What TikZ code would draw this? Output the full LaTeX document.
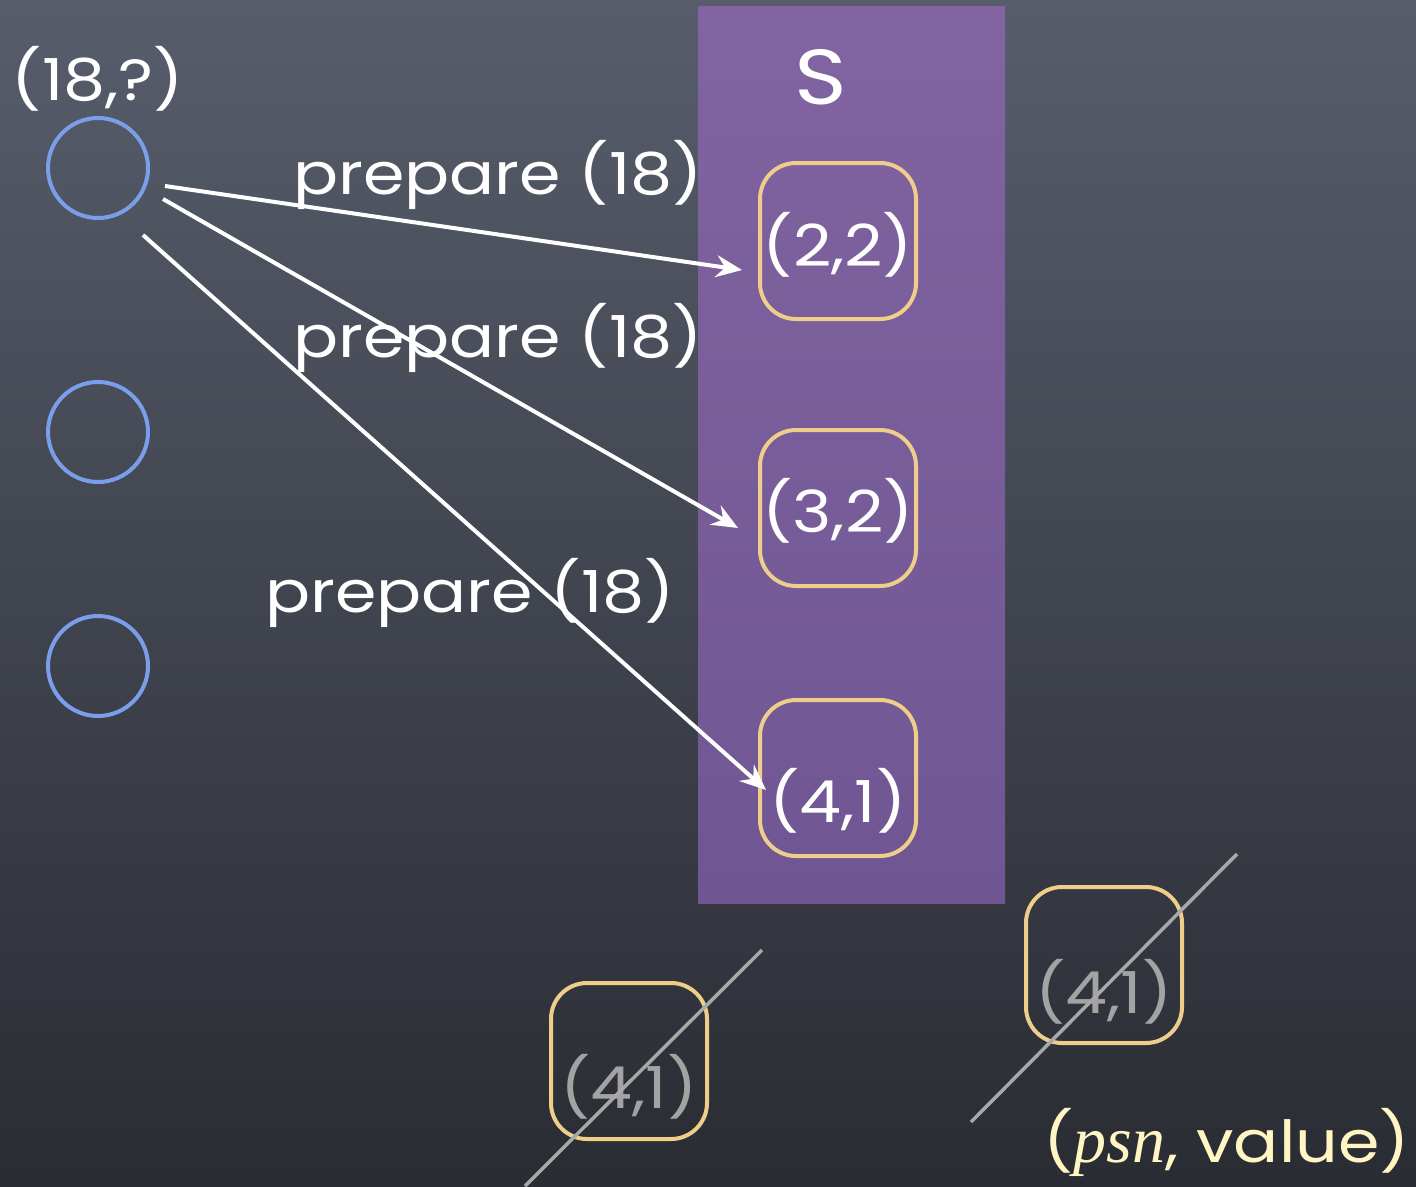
\documentclass[tikz,border=0pt]{standalone}
\usepackage{fontspec}
\setmainfont{Poppins}[FakeStretch=1.15]
\newfontfamily\psnfont{Liberation Serif}
\usetikzlibrary{arrows.meta}
\definecolor{bgtop}{HTML}{575D6B}
\definecolor{bgbot}{HTML}{2A2C33}
\definecolor{purtop}{HTML}{8164A1}
\definecolor{purbot}{HTML}{6F5692}
\definecolor{boxcol}{HTML}{EFCE8C}
\definecolor{circcol}{HTML}{7B9EEA}
\definecolor{graytxt}{HTML}{A3A3A3}
\definecolor{strike}{HTML}{A8A8A8}
\definecolor{ylw}{HTML}{FFF6C4}
\tikzset{
  circ/.style={circle, draw=circcol, line width=4pt, minimum size=100pt, inner sep=0pt},
  sbox/.style={rectangle, rounded corners=36pt, draw=boxcol, line width=4pt, minimum width=156pt, minimum height=156pt, inner sep=0pt},
  txt/.style={text=white, font=\fontsize{58}{64}\selectfont, inner sep=0pt},
  gtxt/.style={text=graytxt, font=\fontsize{58}{64}\selectfont, inner sep=0pt},
  arr/.style={draw=white, line width=4pt, -{Stealth[length=26pt,width=22pt,inset=9pt]}},
  strk/.style={draw=strike, line width=3.5pt},
}
\begin{document}
\begin{tikzpicture}[x=1pt,y=-1pt]
\useasboundingbox (0,0) rectangle (1416,1186);
\shade[top color=bgtop, bottom color=bgbot] (0,0) rectangle (1416,1186);
\shade[top color=purtop, bottom color=purbot] (698,6) rectangle (1005,903);
% left circles
\node[circ] (c1) at (98,168) {};
\node[circ] (c2) at (98,432) {};
\node[circ] (c3) at (98,666) {};
\node[txt, anchor=base] (t18) at (98,100) {(18,?)};
\node[txt, anchor=base, font=\fontsize{78}{84}\selectfont] (S) at (821,104) {S};
% boxes in S
\node[sbox] (b22) at (838,241) {};
\node[sbox] (b32) at (838,508) {};
\node[sbox] (b41) at (838,778) {};
\node[txt, anchor=base] (t22) at (838,266) {(2,2)};
\node[txt, anchor=base] (t32) at (838,532) {(3,2)};
\node[txt, anchor=base] (t41) at (838,822) {(4,1)};
% arrows
\coordinate (a1s) at (165,186); \coordinate (a1e) at (742,270);
\coordinate (a2s) at (163,199); \coordinate (a2e) at (738,528);
\coordinate (a3s) at (143,235); \coordinate (a3e) at (766,790);
\draw[arr] (a1s) -- (a1e);
\draw[arr] (a2s) -- (a2e);
\draw[arr] (a3s) -- (a3e);
\node[txt, anchor=base west] (p1) at (293,194) {prepare (18)};
\node[txt, anchor=base west] (p2) at (293,357) {prepare (18)};
\node[txt, anchor=base west] (p3) at (265,612) {prepare (18)};
% crossed out boxes
\node[sbox] (g1) at (629,1061) {};
\node[sbox] (g2) at (1104,965) {};
\node[gtxt, anchor=base] (tg1) at (629,1108) {(4,1)};
\node[gtxt, anchor=base] (tg2) at (1104,1013) {(4,1)};
\coordinate (s1a) at (762,950); \coordinate (s1b) at (525,1186);
\coordinate (s2a) at (1237,854); \coordinate (s2b) at (971,1122);
\draw[strk] (s1a) -- (s1b);
\draw[strk] (s2a) -- (s2b);
\node[txt, text=ylw, anchor=base east] (pv) at (1410,1162) {({\psnfont\fontsize{66}{70}\selectfont\itshape psn}, value)};
\end{tikzpicture}
\end{document}
